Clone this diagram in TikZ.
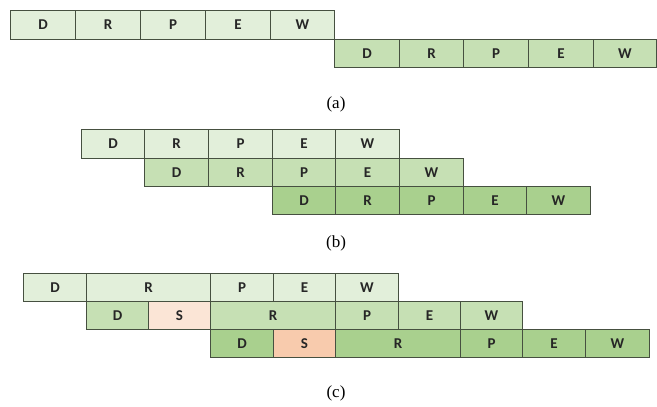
\documentclass[tikz,border=0pt]{standalone}
\usepackage{fontspec}
\setmainfont{Liberation Serif}
\newfontfamily\cellfont{Carlito}
\definecolor{rowA}{HTML}{E2EFDA}
\definecolor{rowB}{HTML}{C6E0B4}
\definecolor{rowC}{HTML}{A9D08E}
\definecolor{pinkA}{HTML}{FBE5D6}
\definecolor{pinkB}{HTML}{F8CBAD}
\definecolor{edge}{RGB}{70,80,64}
\newcommand{\mkcell}[7]{%
  \pgfmathsetmacro{\cw}{#3-#2}\pgfmathsetmacro{\ch}{#5-#4}%
  \node[cell, fill=#6, minimum width=\cw pt, minimum height=\ch pt] (#1) at (#2,#4) {#7};}
\begin{document}
\begin{tikzpicture}[x=1pt,y=-1pt,
  cell/.style={draw=edge, line width=1pt, inner sep=0pt, anchor=north west,
    font=\cellfont\bfseries\fontsize{15}{15}\selectfont, text=black!85},
  caption/.style={font=\fontsize{17}{17}\selectfont}]
\useasboundingbox[fill=white] (0,0) rectangle (657,407);
% (a)
\mkcell{a1d}{10}{75}{10}{39}{rowA}{D}
\mkcell{a1r}{75}{140}{10}{39}{rowA}{R}
\mkcell{a1p}{140}{205}{10}{39}{rowA}{P}
\mkcell{a1e}{205}{270}{10}{39}{rowA}{E}
\mkcell{a1w}{270}{334}{10}{39}{rowA}{W}
\mkcell{a2d}{334}{399}{39}{67}{rowB}{D}
\mkcell{a2r}{399}{463}{39}{67}{rowB}{R}
\mkcell{a2p}{463}{528}{39}{67}{rowB}{P}
\mkcell{a2e}{528}{593}{39}{67}{rowB}{E}
\mkcell{a2w}{593}{656}{39}{67}{rowB}{W}
\node[caption] (capa) at (336,104) {(a)};
% (b)
\mkcell{b1d}{81}{144}{129}{158}{rowA}{D}
\mkcell{b1r}{144}{208}{129}{158}{rowA}{R}
\mkcell{b1p}{208}{272}{129}{158}{rowA}{P}
\mkcell{b1e}{272}{335}{129}{158}{rowA}{E}
\mkcell{b1w}{335}{399}{129}{158}{rowA}{W}
\mkcell{b2d}{144}{208}{158}{186}{rowB}{D}
\mkcell{b2r}{208}{272}{158}{186}{rowB}{R}
\mkcell{b2p}{272}{335}{158}{186}{rowB}{P}
\mkcell{b2e}{335}{399}{158}{186}{rowB}{E}
\mkcell{b2w}{399}{463}{158}{186}{rowB}{W}
\mkcell{b3d}{272}{335}{186}{214}{rowC}{D}
\mkcell{b3r}{335}{399}{186}{214}{rowC}{R}
\mkcell{b3p}{399}{463}{186}{214}{rowC}{P}
\mkcell{b3e}{463}{526}{186}{214}{rowC}{E}
\mkcell{b3w}{526}{590}{186}{214}{rowC}{W}
\node[caption] (capb) at (336,243) {(b)};
% (c)
\mkcell{c1d}{23}{86}{273}{301}{rowA}{D}
\mkcell{c1r}{86}{210}{273}{301}{rowA}{R}
\mkcell{c1p}{210}{273}{273}{301}{rowA}{P}
\mkcell{c1e}{273}{335}{273}{301}{rowA}{E}
\mkcell{c1w}{335}{398}{273}{301}{rowA}{W}
\mkcell{c2d}{86}{148}{301}{329}{rowB}{D}
\mkcell{c2s}{148}{210}{301}{329}{pinkA}{S}
\mkcell{c2r}{210}{335}{301}{329}{rowB}{R}
\mkcell{c2p}{335}{398}{301}{329}{rowB}{P}
\mkcell{c2e}{398}{460}{301}{329}{rowB}{E}
\mkcell{c2w}{460}{522}{301}{329}{rowB}{W}
\mkcell{c3d}{210}{273}{329}{357}{rowC}{D}
\mkcell{c3s}{273}{335}{329}{357}{pinkB}{S}
\mkcell{c3r}{335}{460}{329}{357}{rowC}{R}
\mkcell{c3p}{460}{522}{329}{357}{rowC}{P}
\mkcell{c3e}{522}{585}{329}{357}{rowC}{E}
\mkcell{c3w}{585}{649}{329}{357}{rowC}{W}
\node[caption] (capc) at (336,393) {(c)};
\end{tikzpicture}
\end{document}
